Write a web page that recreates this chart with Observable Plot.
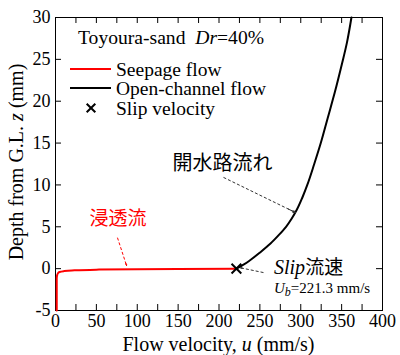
<!DOCTYPE html>
<html><head><meta charset="utf-8">
<script src="https://cdn.jsdelivr.net/npm/d3@7"></script>
<script src="https://cdn.jsdelivr.net/npm/@observablehq/plot@0.6"></script>
<style>
html,body{margin:0;padding:0;background:#fff;}
svg{display:block;}
svg text, svg tspan{font-family: "Liberation Serif", "DejaVu Serif", serif;}
svg text.cjk, svg tspan.cjk{font-family: "Noto Sans CJK JP", sans-serif;}
</style>
</head><body><div id="chart"></div>
<script>
// ---- data ----
const seepageU = [1.5, 1.5, 1.5, 2, 3, 5, 10, 20, 50, 100, 150, 221.3];
const seepageZ = [-5, -2, -1.2, -0.8, -0.55, -0.4, -0.3, -0.22, -0.12, -0.06, -0.03, 0];
const openU = [221.3, 226, 230.5, 238, 251, 263, 273, 282, 289, 295, 302, 308, 316.5, 324.5, 333, 341.5, 350.5, 356.5, 362];
const openZ = [0, 0.25, 0.5, 1, 2, 3, 4, 5, 6, 7, 8.5, 10, 12.5, 15, 18, 21, 24.5, 27, 30];
const slipU = [221.3];
const slipZ = [0];
const xTickLabels = [0, 50, 100, 150, 200, 250, 300, 350, 400];
const xMinorTicks = [0, 25, 50, 75, 100, 125, 150, 175, 200, 225, 250, 275, 300, 325, 350, 375, 400];
const yTicks = [-5, 0, 5, 10, 15, 20, 25, 30];
// annotation arrows: [u1, z1, u2, z2]
const arrowSeep = [75.8, 3.7, 86.9, 0.37];
const arrowOpen = [205.5, 10.9, 293.6, 6.7];
const arrowSlip = [254.4, -0.47, 226.3, 0.1];
const labelSeep = {u: 76.6, z: 5.9, text: "浸透流"};
const labelOpen = {u: 204.3, z: 12.56, text: "開水路流れ"};

const W = 400, H = 355, mL = 55, mR = 18, mT = 17, mB = 45;
const plotH = H - mT - mB, plotW = W - mL - mR;
const seepage = seepageU.map((u, i) => ({u, z: seepageZ[i]}));
const open = openU.map((u, i) => ({u, z: openZ[i]}));
const slip = slipU.map((u, i) => ({u, z: slipZ[i]}));

function arrowMarks(a, color) {
  const t = 0.9;
  return [
    Plot.link([a], {x1: d => d[0], y1: d => d[1], x2: d => d[2], y2: d => d[3],
      stroke: color, strokeWidth: 1, strokeDasharray: "3,2"}),
    Plot.arrow([a], {x1: d => d[0] + (d[2] - d[0]) * t, y1: d => d[1] + (d[3] - d[1]) * t,
      x2: d => d[2], y2: d => d[3], stroke: color, strokeWidth: 1, headLength: 9, headAngle: 50})
  ];
}

const chart = Plot.plot({
  width: W, height: H,
  marginLeft: mL, marginRight: mR, marginTop: mT, marginBottom: mB,
  style: {fontSize: "18px", background: "white", color: "black", overflow: "visible"},
  x: {domain: [0, 400]},
  y: {domain: [-5, 30]},
  marks: [
    Plot.axisX({ticks: xTickLabels, tickSize: 0, tickPadding: 4, tickFormat: d => String(d), label: null, fontSize: 18}),
    Plot.axisY({ticks: yTicks, tickSize: 0, tickPadding: 5, tickFormat: d => String(d), label: null, fontSize: 18}),
    Plot.ruleX(xMinorTicks, {x: d => d, insetTop: plotH - 6, stroke: "black"}),
    Plot.ruleX(xMinorTicks, {x: d => d, insetBottom: plotH - 6, stroke: "black"}),
    Plot.ruleY(yTicks, {y: d => d, insetRight: plotW - 6, stroke: "black"}),
    Plot.ruleY(yTicks, {y: d => d, insetLeft: plotW - 6, stroke: "black"}),
    Plot.frame({stroke: "black"}),
    Plot.line(seepage, {x: "u", y: "z", stroke: "#ff0000", strokeWidth: 2, curve: "monotone-y"}),
    Plot.line(open, {x: "u", y: "z", stroke: "black", strokeWidth: 2, curve: "monotone-y"}),
    Plot.dot(slip, {x: "u", y: "z", symbol: "times", r: 4.5, stroke: "black", strokeWidth: 2}),
    ...arrowMarks(arrowSeep, "#ff0000"),
    ...arrowMarks(arrowOpen, "#333"),
    ...arrowMarks(arrowSlip, "#333"),
    Plot.text([labelSeep], {x: "u", y: "z", text: "text", fill: "#ff0000", fontSize: 19, className: "cjkred"}),
    Plot.text([labelOpen], {x: "u", y: "z", text: "text", fill: "black", fontSize: 20, className: "cjkblk"})
  ]
});
document.getElementById("chart").appendChild(chart);
// CJK labels drawn by Plot.text get the CJK font
d3.select(chart).selectAll(".cjkred text, .cjkblk text").classed("cjk", true);

// rich text annotations (mixed italic / subscript / CJK)
const svg = d3.select(chart);
const g = svg.append("g").attr("fill", "black").attr("text-anchor", "start");

// title
const t1 = g.append("text").attr("x", 78).attr("y", 37).attr("dy", "0.35em").attr("font-size", 19.6).attr("text-anchor", "start");
t1.append("tspan").text("Toyoura-sand  ");
t1.append("tspan").attr("font-style", "italic").text("Dr");
t1.append("tspan").text("=40%");

// legend
g.append("line").attr("x1", 70).attr("x2", 111).attr("y1", 69).attr("y2", 69).attr("stroke", "#ff0000").attr("stroke-width", 2);
g.append("text").attr("x", 116).attr("y", 69).attr("dy", "0.35em").attr("font-size", 19.5).attr("text-anchor", "start").text("Seepage flow");
g.append("line").attr("x1", 70).attr("x2", 111).attr("y1", 88).attr("y2", 88).attr("stroke", "black").attr("stroke-width", 2);
g.append("text").attr("x", 116).attr("y", 88).attr("dy", "0.35em").attr("font-size", 19.5).attr("text-anchor", "start").text("Open-channel flow");
g.append("path").attr("d", d3.symbol(d3.symbolTimes, 4 * 4 * Math.PI)()).attr("transform", "translate(91,108)").attr("stroke", "black").attr("stroke-width", 2).attr("fill", "none");
g.append("text").attr("x", 116).attr("y", 108).attr("dy", "0.35em").attr("font-size", 19.5).attr("text-anchor", "start").text("Slip velocity");

// slip annotation
const s1 = g.append("text").attr("x", 274).attr("y", 267).attr("dy", "0.35em").attr("font-size", 20).attr("text-anchor", "start");
s1.append("tspan").attr("font-style", "italic").text("Slip");
s1.append("tspan").attr("class", "cjk").attr("font-size", 19).text("流速");
const s2 = g.append("text").attr("x", 274).attr("y", 288).attr("dy", "0.35em").attr("font-size", 15).attr("text-anchor", "start");
s2.append("tspan").attr("font-style", "italic").text("U");
s2.append("tspan").attr("font-style", "italic").attr("font-size", 12).attr("dy", "3").text("b");
s2.append("tspan").attr("dy", "-3").text("=221.3 mm/s");

// axis titles
const xl = g.append("text").attr("x", (mL + W - mR) / 2).attr("y", 344).attr("dy", "0.35em").attr("text-anchor", "middle").attr("font-size", 20);
xl.append("tspan").text("Flow velocity, ");
xl.append("tspan").attr("font-style", "italic").text("u");
xl.append("tspan").text(" (mm/s)");
const yl = g.append("text").attr("transform", "translate(15.5,162) rotate(-90)").attr("dy", "0.35em").attr("text-anchor", "middle").attr("font-size", 20);
yl.append("tspan").text("Depth from G.L. ");
yl.append("tspan").attr("font-style", "italic").text("z");
yl.append("tspan").text(" (mm)");
</script>
</body></html>
